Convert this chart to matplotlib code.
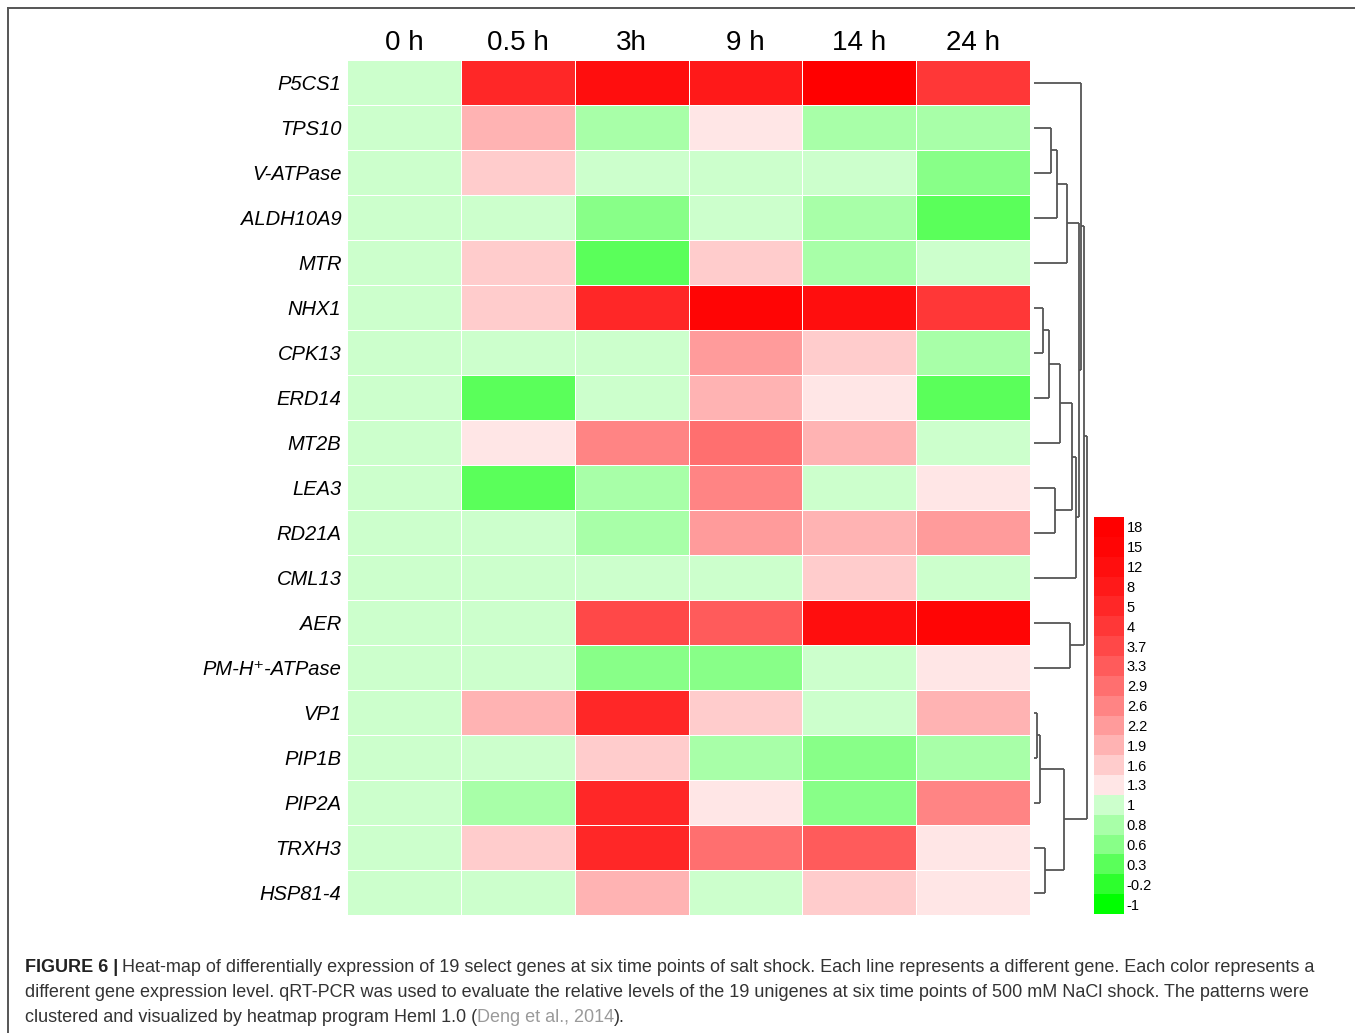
import matplotlib
matplotlib.use("Agg")
import matplotlib.pyplot as plt
from matplotlib.colors import ListedColormap, BoundaryNorm
from matplotlib.lines import Line2D
import numpy as np

plt.rcParams['font.family'] = ['Liberation Sans', 'DejaVu Sans']

# ---- data -------------------------------------------------------------
timepoints = ["0 h", "0.5 h", "3h", "9 h", "14 h", "24 h"]
genes = ["P5CS1", "TPS10", "V-ATPase", "ALDH10A9", "MTR", "NHX1", "CPK13",
         "ERD14", "MT2B", "LEA3", "RD21A", "CML13", "AER", "PM-H\u207a-ATPase",
         "VP1", "PIP1B", "PIP2A", "TRXH3", "HSP81-4"]

# relative expression (fold change vs 0 h)
p5cs1    = [1, 5, 12, 8, 18, 4]
tps10    = [1, 1.9, 0.8, 1.3, 0.8, 0.8]
vatpase  = [1, 1.6, 1, 1, 1, 0.6]
aldh10a9 = [1, 1, 0.6, 1, 0.8, 0.3]
mtr      = [1, 1.6, 0.3, 1.6, 0.8, 1]
nhx1     = [1, 1.6, 5, 15, 12, 4]
cpk13    = [1, 1, 1, 2.2, 1.6, 0.8]
erd14    = [1, 0.3, 1, 1.9, 1.3, 0.3]
mt2b     = [1, 1.3, 2.6, 2.9, 1.9, 1]
lea3     = [1, 0.3, 0.8, 2.6, 1, 1.3]
rd21a    = [1, 1, 0.8, 2.2, 1.9, 2.2]
cml13    = [1, 1, 1, 1, 1.6, 1]
aer      = [1, 1, 3.7, 3.3, 12, 15]
pmhatp   = [1, 1, 0.6, 0.6, 1, 1.3]
vp1      = [1, 1.9, 5, 1.6, 1, 1.9]
pip1b    = [1, 1, 1.6, 0.8, 0.6, 0.8]
pip2a    = [1, 0.8, 5, 1.3, 0.6, 2.6]
trxh3    = [1, 1.6, 5, 2.9, 3.3, 1.3]
hsp81    = [1, 1, 1.9, 1, 1.6, 1.3]

rows = [p5cs1, tps10, vatpase, aldh10a9, mtr, nhx1, cpk13, erd14, mt2b,
        lea3, rd21a, cml13, aer, pmhatp, vp1, pip1b, pip2a, trxh3, hsp81]

# colour scale levels, top to bottom
levels = [18, 15, 12, 8, 5, 4, 3.7, 3.3, 2.9, 2.6, 2.2, 1.9, 1.6, 1.3,
          1, 0.8, 0.6, 0.3, -0.2, -1]

# hierarchical clustering of genes: (left, right, merge height)
tree = (
    (
        ("P5CS1",
         (
             ((("TPS10", "V-ATPase", 17), "ALDH10A9", 23), "MTR", 33),
             ((((("NHX1", "CPK13", 9), "ERD14", 14.7), "MT2B", 26),
               ("LEA3", "RD21A", 20.7), 38), "CML13", 42),
             45),
         47),
        ("AER", "PM-H\u207a-ATPase", 35.7),
        50),
    ((("VP1", "PIP1B", 2.5), "PIP2A", 5.7), ("TRXH3", "HSP81-4", 11.3), 29.7),
    53.3)

# ---- colours ----------------------------------------------------------
n_red = 14
red_cols = []
for k in range(n_red):
    v = 230 * (k / (n_red - 1)) ** 1.5 / 255
    red_cols.append((1.0, v, v))
green_vals = [204, 168, 136, 90, 45, 0]
green_cols = [(g / 255, 1.0, g / 255) for g in green_vals]
level_colors = red_cols + green_cols
cmap = ListedColormap(level_colors)
norm = BoundaryNorm(np.arange(-0.5, len(levels) + 0.5, 1), cmap.N)

lev_arr = np.array(levels, dtype=float)
data = np.array(rows, dtype=float)
idx = np.abs(data[..., None] - lev_arr[None, None, :]).argmin(axis=-1)

# ---- figure -----------------------------------------------------------
W, H = 1355, 1033
fig = plt.figure(figsize=(W / 100, H / 100), dpi=100)


def px_axes(x0, y0, x1, y1):
    return fig.add_axes([x0 / W, 1 - y1 / H, (x1 - x0) / W, (y1 - y0) / H])


# frame lines
fig.add_artist(Line2D([8 / W, 1], [1 - 8 / H, 1 - 8 / H], color="#555555",
                      lw=1.4, transform=fig.transFigure))
fig.add_artist(Line2D([8 / W, 8 / W], [0, 1 - 8 / H], color="#555555",
                      lw=1.4, transform=fig.transFigure))

# heatmap
ax = px_axes(347, 60, 1030, 915)
ax.pcolormesh(idx, cmap=cmap, norm=norm, edgecolors="white", linewidth=0.6)
ax.set_xlim(0, len(timepoints))
ax.set_ylim(len(genes), 0)
for s in ax.spines.values():
    s.set_visible(False)
ax.set_xticks(np.arange(len(timepoints)) + 0.5)
ax.set_xticklabels(timepoints, fontsize=20)
ax.xaxis.tick_top()
ax.set_yticks(np.arange(len(genes)) + 0.5)
ax.set_yticklabels(genes, fontsize=14.5, style="italic")
ax.tick_params(length=0, pad=4)
ax.tick_params(axis="x", pad=3)

# dendrogram
dax = px_axes(1030, 60, 1095, 915)
dax.set_xlim(-4, 61)
dax.set_ylim(len(genes), 0)
dax.axis("off")
ypos = {g: i + 0.5 for i, g in enumerate(genes)}


def draw(node):
    if isinstance(node, str):
        return ypos[node], 0.0
    left, right, h = node
    yl, hl = draw(left)
    yr, hr = draw(right)
    kw = dict(color="#555555", lw=1.3, solid_capstyle="butt")
    dax.plot([hl, h], [yl, yl], **kw)
    dax.plot([hr, h], [yr, yr], **kw)
    dax.plot([h, h], [yl, yr], **kw)
    return (yl + yr) / 2, h


draw(tree)

# colour key
cax = px_axes(1094, 517, 1124, 914)
cax.pcolormesh(np.arange(len(levels))[:, None], cmap=cmap, norm=norm)
cax.set_ylim(len(levels), 0)
cax.set_xlim(0, 1)
for s in cax.spines.values():
    s.set_visible(False)
cax.set_xticks([])
cax.yaxis.tick_right()
cax.set_yticks(np.arange(len(levels)) + 0.5)
cax.set_yticklabels([f"{v:g}" for v in levels], fontsize=10.5)
cax.tick_params(length=0, pad=2)

# caption
fig.canvas.draw()
renderer = fig.canvas.get_renderer()
cap_fs = 13.0
y1 = 1 - 972 / H
t = fig.text(25 / W, y1, "FIGURE 6 |", fontsize=cap_fs, fontweight="bold",
             color="#222222", va="baseline")
bb = t.get_window_extent(renderer)
fig.text(bb.x1 / W + 4 / W, y1,
         "Heat-map of differentially expression of 19 select genes at six time points of salt shock. "
         "Each line represents a different gene. Each color represents a",
         fontsize=cap_fs, color="#333333", va="baseline")
fig.text(25 / W, 1 - 997 / H,
         "different gene expression level. qRT-PCR was used to evaluate the relative levels of the 19 "
         "unigenes at six time points of 500 mM NaCl shock. The patterns were",
         fontsize=cap_fs, color="#333333", va="baseline")
y3 = 1 - 1022 / H
t3 = fig.text(25 / W, y3, "clustered and visualized by heatmap program Heml 1.0 (",
              fontsize=cap_fs, color="#333333", va="baseline")
bb3 = t3.get_window_extent(renderer)
t4 = fig.text(bb3.x1 / W, y3, "Deng et al., 2014", fontsize=cap_fs,
              color="#9a9a9a", va="baseline")
bb4 = t4.get_window_extent(renderer)
fig.text(bb4.x1 / W, y3, ").", fontsize=cap_fs, color="#333333", va="baseline")

fig.savefig("out.png", dpi=100, facecolor="white")
